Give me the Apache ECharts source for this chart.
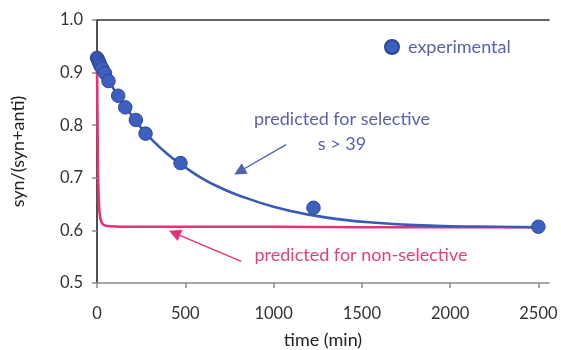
<!DOCTYPE html>
<html>
<head>
<meta charset="utf-8">
<script src="https://cdn.jsdelivr.net/npm/echarts@6/dist/echarts.min.js"></script>
<style>html,body{margin:0;padding:0;background:#fff}#c{width:561px;height:350px}</style>
</head>
<body>
<div id="c"></div>
<script>
// experimental data [time (min), syn/(syn+anti)]
const expTime  = [0, 5, 10, 15, 20, 30, 45, 65, 120, 160, 220, 275, 473, 1226, 2500];
const expValue = [0.928, 0.925, 0.921, 0.917, 0.913, 0.908, 0.899, 0.884, 0.856, 0.834, 0.810, 0.784, 0.728, 0.643, 0.607];
// predicted for selective (s > 39)
const selTime  = [0, 50, 100, 150, 200, 250, 300, 400, 500, 600, 700, 800, 1000, 1200, 1400, 1600, 1800, 2000, 2250, 2500];
const selValue = [0.926, 0.895, 0.866, 0.840, 0.817, 0.795, 0.776, 0.745, 0.720, 0.698, 0.681, 0.667, 0.645, 0.630, 0.620, 0.614, 0.610, 0.608, 0.607, 0.606];
// predicted for non-selective
const nonTime  = [0, 1, 2, 3, 5, 8, 12, 18, 25, 35, 50, 80, 150, 500, 1000, 1500, 2000, 2500];
const nonValue = [0.905, 0.88, 0.84, 0.80, 0.74, 0.68, 0.645, 0.625, 0.616, 0.611, 0.609, 0.608, 0.607, 0.607, 0.607, 0.606, 0.606, 0.606];
const xTicks = [0, 500, 1000, 1500, 2000, 2500];

const zip = (a, b) => a.map((v, i) => [v, b[i]]);
const FONT = 'Lato';
const blue = '#3a5bb5';
const pink = '#e8307a';
const txtBlue = '#5a62ae';

const chart = echarts.init(document.getElementById('c'), null, {renderer: 'canvas'});
chart.setOption({
  animation: false,
  textStyle: {fontFamily: FONT},
  grid: {left: 97, right: 12, top: 20, bottom: 67, containLabel: false, outerBoundsMode: 'none'},
  legend: {
    data: ['experimental'], left: 379, top: 33, icon: 'circle', itemWidth: 14, itemHeight: 14, itemGap: 6,
    textStyle: {color: txtBlue, fontSize: 18, fontFamily: FONT, padding: [0, 0, 0, 4]},
    itemStyle: {opacity: 1}
  },
  xAxis: [{
    type: 'value', min: 0, max: 2560, interval: 500,
    name: 'time (min)', nameLocation: 'middle', nameGap: 48,
    nameTextStyle: {color: '#222', fontSize: 18, fontFamily: FONT},
    axisLine: {show: true, lineStyle: {color: '#8a8a8a', width: 1.5}},
    axisTick: {show: true, length: 5, lineStyle: {color: '#8a8a8a', width: 1.5}, customValues: xTicks},
    axisLabel: {color: '#333', fontSize: 16.5, margin: 22, customValues: xTicks, fontFamily: FONT, formatter: v => String(v)},
    splitLine: {show: false}
  }, {
    type: 'value', position: 'top', min: 0, max: 2560,
    axisLine: {show: true, lineStyle: {color: '#333', width: 1.5}},
    axisTick: {show: false}, axisLabel: {show: false}, splitLine: {show: false}
  }],
  yAxis: [{
    type: 'value', min: 0.5, max: 1.0, interval: 0.1,
    name: 'syn/(syn+anti)', nameLocation: 'middle', nameGap: 70, nameRotate: 90,
    nameTextStyle: {color: '#222', fontSize: 18, fontFamily: FONT},
    axisLine: {show: true, lineStyle: {color: '#8a8a8a', width: 1.5}},
    axisTick: {show: true, length: 5, lineStyle: {color: '#8a8a8a', width: 1.5}},
    axisLabel: {color: '#333', fontSize: 16.5, margin: 14, formatter: v => v.toFixed(1), fontFamily: FONT},
    splitLine: {show: false}
  }, {
    type: 'value', position: 'right', min: 0.5, max: 1.0,
    axisLine: {show: true, lineStyle: {color: '#333', width: 1.5}},
    axisTick: {show: false}, axisLabel: {show: false}, splitLine: {show: false}
  }],
  series: [{
    name: 'predicted for non-selective', type: 'line', data: zip(nonTime, nonValue),
    showSymbol: false, smooth: 0.3, lineStyle: {color: pink, width: 2.6}, z: 2,
    markLine: {
      silent: true, symbol: ['none', 'triangle'], symbolSize: 12,
      lineStyle: {color: pink, width: 1.3, type: 'solid'}, label: {show: false},
      itemStyle: {color: pink},
      data: [[{coord: [817, 0.541]}, {coord: [439, 0.595]}]]
    }
  }, {
    name: 'predicted for selective', type: 'line', data: zip(selTime, selValue),
    showSymbol: false, smooth: true, lineStyle: {color: blue, width: 2.6}, z: 3,
    markLine: {
      silent: true, symbol: ['none', 'triangle'], symbolSize: 12,
      lineStyle: {color: '#5560b0', width: 1.3, type: 'solid'}, label: {show: false},
      itemStyle: {color: blue},
      data: [[{coord: [1071, 0.763]}, {coord: [807, 0.712]}]]
    }
  }, {
    name: 'experimental', type: 'scatter', data: zip(expTime, expValue),
    symbol: 'circle', symbolSize: 13.5, z: 5,
    itemStyle: {color: '#3d5fc0', borderColor: '#2a4793', borderWidth: 1, opacity: 1}
  }],
  graphic: [
    {type: 'text', x: 342, y: 119, style: {text: 'predicted for selective', fill: txtBlue, font: '18px ' + FONT, textAlign: 'center', textVerticalAlign: 'middle'}},
    {type: 'text', x: 342, y: 144, style: {text: 's > 39', fill: txtBlue, font: '18px ' + FONT, textAlign: 'center', textVerticalAlign: 'middle'}},
    {type: 'text', x: 361, y: 255, style: {text: 'predicted for non-selective', fill: '#e0407f', font: '18px ' + FONT, textAlign: 'center', textVerticalAlign: 'middle'}}
  ]
});
</script>
</body>
</html>
